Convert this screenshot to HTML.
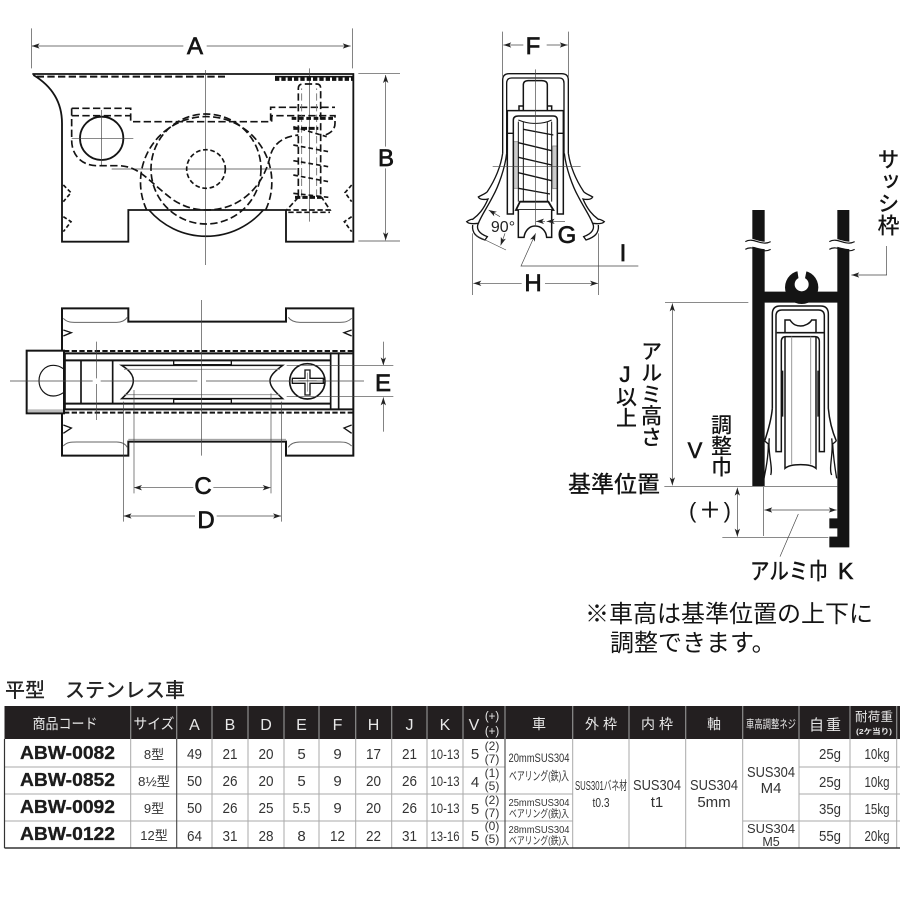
<!DOCTYPE html>
<html lang="ja">
<head>
<meta charset="utf-8">
<title>平型 ステンレス車</title>
<style>
html,body{margin:0;padding:0;background:#fff;width:900px;height:900px;overflow:hidden}
svg{display:block}
text{font-family:"Liberation Sans","Noto Sans CJK JP",sans-serif}
</style>
</head>
<body>
<svg xmlns="http://www.w3.org/2000/svg" width="900" height="900" viewBox="0 0 900 900">
<defs>
<marker id="a" viewBox="0 0 24 16" refX="24" refY="8" markerWidth="24" markerHeight="16" markerUnits="userSpaceOnUse" orient="auto-start-reverse">
<path d="M0 0L24 8L0 16L6 8z" fill="#222"/>
</marker>
</defs>

<!-- TOP VIEW -->
<g transform="translate(0,20) scale(.33333)" fill="none" stroke="#141414" stroke-width="5.5">
<path d="M97 162H1060V665H858V570H385V665H186V310C186 240 150 195 100 165"/>
<path d="M447 570A226 226 0 0 0 790 570" stroke-width="5"/>
<circle cx="305" cy="355" r="65"/>
<g stroke-width="2" stroke="#444">
<path d="M617 150V735M335 447H890M305 270V435M215 355H400M928 145V605"/>
<path d="M95 25V145M1057 25V145M1075 161H1200M1075 663H1200"/>
<path d="M95 78H550" marker-start="url(#a)"/>
<path d="M620 78H1052" marker-end="url(#a)"/>
<path d="M1157 380V165" marker-end="url(#a)"/>
<path d="M1157 445V661" marker-end="url(#a)"/>
</g>
<g stroke-width="5" stroke-dasharray="22 10">
<path d="M440 570A197 197 0 1 1 797 570"/>
<circle cx="618" cy="447" r="165"/>
<circle cx="618" cy="447" r="58" stroke-dasharray="14 8"/>
<path d="M215 287H390M215 265H392V305H812V262H1005"/>
<path d="M815 305V287H1005V310C1005 330 990 340 975 345"/>
<path d="M215 265V360C215 410 250 437 290 437H350C420 437 440 480 520 540C560 565 590 570 620 570C720 570 790 500 810 410C820 370 850 350 895 345"/>
<path d="M110 170H675" stroke-width="6"/>
<path d="M895 530V205Q895 192 910 192H950Q962 192 962 205V530"/>
<path d="M905 530V205M950 530V205" stroke-width="2.5" stroke="#666"/>
<path d="M895 532L860 570H990L965 532" stroke-dasharray="16 8"/>
<path d="M865 577H990" stroke-dasharray="16 8"/>
<path d="M190 495L213 518L190 545M190 590L213 605L190 635M1055 495L1035 518L1055 545M1055 590L1033 605L1055 635" stroke-dasharray="12 7"/>
<path d="M880 320L980 350M880 375L985 395M880 422L985 440M880 465L985 485M880 520L985 532" stroke-dasharray="14 9"/>
</g>
<path d="M825 176H1062" stroke-width="13" stroke-dasharray="13 6"/>
<path d="M825 170H1062" stroke-width="5"/>
<path d="M875 295H1005" stroke-width="9" stroke-dasharray="14 8"/>
<path d="M880 325H955" stroke-width="9" stroke-dasharray="18 5"/>
<path d="M885 532H965" stroke-width="9" stroke-dasharray="16 6"/>
</g>

<!-- PLAN VIEW -->
<g transform="translate(0,290) scale(.33333)" fill="none" stroke="#141414" stroke-width="6">
<path d="M186 180V55H385V95H858V55H1060V497H858V455H385V497H186V370"/>
<rect x="80" y="182" width="112" height="188" stroke-width="6"/>
<rect x="83" y="358" width="106" height="8" fill="#bbb" stroke="none"/>
<path d="M190 236C180 229 170 226 160 226C135 226 117 247 117 272C117 298 135 318 160 318C170 318 180 315 190 308" stroke-width="3.5"/>
<path d="M192 183H1058M192 368H1058" stroke-width="6" stroke-dasharray="16 7"/>
<path d="M195 190H1060M195 358H1060" stroke-width="6"/>
<path d="M195 211H990M195 341H990" stroke-width="6"/>
<path d="M195 190V358M243 211V341M338 211V341M992 190V358M1016 190V358" stroke-width="5"/>
<path d="M521 211H694V224H521zM521 341V328H694V341" stroke-width="4"/>
<path d="M365 226H848C822 245 810 258 810 272C810 290 825 305 848 326H365C388 305 400 290 400 272C400 255 388 240 365 226Z" stroke-width="4.5" fill="#fff"/>
<path d="M372 238H840M372 314H840" stroke-width="2.5" stroke="#888"/>
<circle cx="922" cy="274" r="53" stroke-width="5"/>
<path d="M915 240H930V265H970V280H930V315H915V280H877V265H915Z" stroke-width="4" fill="#fff"/>
<path d="M895 272H950M922 248V305" stroke-width="2" stroke="#777"/>
<g stroke-width="3" stroke="#666">
<path d="M190 85C200 97 215 97 230 97H350C365 97 375 92 382 82"/>
<path d="M865 82C872 92 885 97 900 97H1020C1035 97 1045 95 1055 85"/>
<path d="M190 468C200 456 215 456 230 456H350C365 456 375 460 382 472"/>
<path d="M865 472C872 460 885 456 900 456H1020C1035 456 1045 458 1055 468"/>
</g>
<path d="M190 120L214 128L190 138M1055 120L1032 128L1055 138M190 405L214 414L190 430M1055 405L1032 414L1055 430" stroke-width="4"/>
<path d="M385 448H858" stroke-width="2.5" stroke="#888"/>
<g stroke-width="2" stroke="#444">
<path d="M30 273H278M302 273H592M618 273H1092M605 30V497M290 155V265M290 282V390M860 226H1180M860 320H1180"/>
<path d="M402 300V610M813 310V610M370 335V695M845 335V695"/>
<path d="M1150 155V226" marker-end="url(#a)"/>
<path d="M1150 425V322" marker-end="url(#a)"/>
<path d="M580 593H402" marker-end="url(#a)"/>
<path d="M640 593H812" marker-end="url(#a)"/>
<path d="M585 678H371" marker-end="url(#a)"/>
<path d="M650 678H843" marker-end="url(#a)"/>
</g>
</g>

<!-- FRONT VIEW -->
<g transform="translate(450,20) scale(.33333)" fill="none" stroke="#141414" stroke-width="4">
<rect x="191" y="365" width="14" height="140" fill="#ccc" stroke="#888" stroke-width="2.5"/>
<rect x="308" y="378" width="14" height="128" fill="#ccc" stroke="#888" stroke-width="2.5"/>
<path d="M158 400V180Q158 161 178 161H335Q355 161 355 180V400"/>
<path d="M170 400V190Q170 174 185 174H328Q342 174 342 190V400"/>
<g id="fl">
<path d="M158 400C152 440 135 480 112 515C105 522 95 525 85 531C88 538 100 540 114 537C100 570 85 585 68 598C65 597 58 600 50 605C55 612 70 612 85 610C78 625 85 640 112 650L105 660C80 652 65 640 68 615"/>
<path d="M170 400C165 445 145 500 128 530C110 565 95 585 85 610" stroke-width="4"/>
</g>
<g transform="translate(513,0) scale(-1,1)">
<path d="M158 400C152 440 135 480 112 515C105 522 95 525 85 531C88 538 100 540 114 537C100 570 85 585 68 598C65 597 58 600 50 605C55 612 70 612 85 610C78 625 85 640 112 650L105 660C80 652 65 640 68 615"/>
<path d="M170 400C165 445 145 500 128 530C110 565 95 585 85 610" stroke-width="4"/>
</g>
<path d="M172 582V272H340V582H322V300Q322 288 310 288H205Q190 288 190 300V582Z" stroke-width="4.5"/>
<path d="M172 340H190M322 340H340"/>
<path d="M220 270V195Q220 182 235 182H275Q292 182 292 195V270M207 270V258H220M305 270V258H292" stroke-width="4.5"/>
<path d="M205 305V545M220 305V545M292 305V545M305 305V545M205 300Q230 310 250 310H260Q285 310 305 300" stroke-width="3"/>
<path d="M220 328L310 345M205 368L305 392M205 412L305 435M205 458L305 482M205 505L300 522" stroke-width="4"/>
<path d="M198 570L210 545H295L310 570Z" stroke-width="5.5" fill="#fff"/>
<path d="M205 570V652H222C225 630 240 618 255 618C272 618 288 630 290 652H305V570" stroke-width="4.5" fill="#fff"/>
<g stroke-width="2" stroke="#444">
<path d="M256 148V620M128 440H392"/>
<path d="M158 35V175M355 35V175M68 640V825M446 640V825"/>
<path d="M220 75H160" marker-end="url(#a)"/>
<path d="M290 75H353" marker-end="url(#a)"/>
<path d="M215 790H70" marker-end="url(#a)"/>
<path d="M285 790H444" marker-end="url(#a)"/>
<path d="M150 590L116 570" marker-end="url(#a)"/>
<path d="M165 640L152 676" marker-end="url(#a)"/>
<path d="M75 645L168 690"/>
<path d="M285 604H258" marker-end="url(#a)"/>
<path d="M318 604H290" marker-end="url(#a)"/>
<path d="M345 604H318"/>
<path d="M565 738H213L257 640" marker-end="url(#a)"/>
</g>
</g>

<!-- SECTION VIEW -->
<g transform="translate(560,140) scale(.33333)" fill="none" stroke="#141414" stroke-width="4">
<path d="M577 210H614V455H832V210H868V1222H808V1190H832V1165H808V1135H832V488H614V1038H577Z" fill="#141414" stroke="none"/>
<path d="M560 297C580 290 600 312 630 303L630 325C600 334 580 312 560 322ZM810 297C830 290 855 312 885 303L885 325C855 334 830 312 810 322Z" fill="#fff" stroke="none"/>
<path d="M556 305C580 290 605 320 632 305M556 328C580 313 605 343 632 328M808 305C832 290 857 320 884 305M808 328C832 313 857 343 884 328" stroke-width="3.5"/>
<circle cx="725" cy="442" r="50" fill="#141414" stroke="none"/>
<circle cx="725" cy="433" r="21" fill="#fff" stroke="none"/>
<path d="M711 385H741L733 425H717Z" fill="#fff" stroke="none"/>
<path d="M637 805V522Q637 498 660 498H782Q805 498 805 522V805C808 840 815 870 829 903" stroke-width="4.5"/>
<path d="M637 805C634 840 625 870 614 903" stroke-width="4.5"/>
<path d="M648 935V528Q648 510 666 510H775Q793 510 793 528V935H778V605Q778 590 765 590H677Q664 590 664 605V935Z" stroke-width="4.5"/>
<path d="M650 578H792" stroke-width="5"/>
<path d="M675 578V540H690C700 555 710 558 722 558C735 558 750 550 755 540H768V578" stroke-width="4.5"/>
<path d="M675 590V985C692 970 752 970 768 985V590" stroke-width="4.5"/>
<path d="M695 590V973M752 590V973" stroke-width="3" stroke="#999"/>
<path d="M668 692V830M774 692V830" stroke-width="4"/>
<path d="M614 903L625 912C625 950 618 985 612 1015M829 903L818 912C820 950 825 985 830 1015M628 895C622 935 640 985 632 1005M815 895C822 935 805 985 815 1005" stroke-width="4"/>
<g stroke-width="2" stroke="#444">
<path d="M315 487H565M313 1040H832M487 1192H805M611 1040V1188"/>
<path d="M337 490V1036" marker-start="url(#a)" marker-end="url(#a)"/>
<path d="M532 1043V1190" marker-start="url(#a)" marker-end="url(#a)"/>
<path d="M613 1110H830" marker-start="url(#a)" marker-end="url(#a)"/>
<path d="M715 1122L660 1250"/>
<path d="M980 318V405H874" marker-end="url(#a)"/>
</g>
</g>

<!-- DIMENSION LABELS -->
<g fill="#141414" stroke="#141414" stroke-width=".7" font-size="24" text-anchor="middle">
<text x="195" y="54">A</text>
<text x="386" y="166">B</text>
<text x="203" y="494">C</text>
<text x="206" y="528">D</text>
<text x="383" y="391">E</text>
<text x="533" y="54">F</text>
<text x="567" y="243">G</text>
<text x="533" y="291">H</text>
<text x="623" y="261">I</text>
</g>
<text x="503" y="232" font-size="16" text-anchor="middle" fill="#222">90°</text>

<!-- JP LABELS -->
<g fill="#141414" font-weight="500">
<text x="887" y="148" font-size="22" style="writing-mode:vertical-rl">サッシ枠</text>
<text x="650" y="340" font-size="21.5" style="writing-mode:vertical-rl">アルミ高さ</text>
<text x="625" y="382" font-size="22" text-anchor="middle" font-weight="400" stroke="#141414" stroke-width=".6">J</text>
<text x="625" y="386" font-size="21" style="writing-mode:vertical-rl">以上</text>
<text x="720" y="414" font-size="21" style="writing-mode:vertical-rl">調整巾</text>
<text x="695" y="458" font-size="22" text-anchor="middle" font-weight="400" stroke="#141414" stroke-width=".6">V</text>
<text x="568" y="492" font-size="23" textLength="92" lengthAdjust="spacing">基準位置</text>
<text x="689" y="518" font-size="22" textLength="42" lengthAdjust="spacing">(＋)</text>
<text x="750" y="579" font-size="23" textLength="78" lengthAdjust="spacingAndGlyphs">アルミ巾</text>
<text x="838" y="579" font-size="23" font-weight="400" stroke="#141414" stroke-width=".6">K</text>
<text x="585" y="622" font-size="24" font-weight="400">※車高は基準位置の上下に</text>
<text x="610" y="651" font-size="24" font-weight="400">調整できます。</text>
<text x="5" y="697" font-size="20" font-weight="500" fill="#222">平型</text>
<text x="65" y="697" font-size="20" font-weight="500" fill="#222">ステンレス車</text>
</g>

<!-- TABLE -->
<rect x="4.5" y="706" width="895.5" height="33" fill="#231f20"/>
<g stroke="#8e8e8e" stroke-width="1.2">
<path d="M130.7 706V739M176.7 706V739M212 706V739M248 706V739M284 706V739M319 706V739M355.7 706V739M391.7 706V739M427 706V739M463 706V739M505 706V739M572.7 706V739M629 706V739M685.7 706V739M742.7 706V739M799 706V739M850 706V739M896.7 706V739"/>
</g>
<g stroke="#aaa" stroke-width="1" fill="none">
<path d="M130.7 739V848M212 739V848M248 739V848M284 739V848M319 739V848M355.7 739V848M391.7 739V848M427 739V848M463 739V848M572.7 739V848M629 739V848M685.7 739V848M742.7 739V848M799 739V848M850 739V848M896.7 739V848"/>
<path d="M4.5 767H505M4.5 794H572.7M4.5 821H572.7M742.7 821H799M799 767H900M799 794H900M799 821H900"/>
</g>
<path d="M176.7 739V848M505 739V848" stroke="#444" stroke-width="1.1" fill="none"/>
<path d="M4.5 739V848" stroke="#333" stroke-width="1.2" fill="none"/>
<path d="M4.5 848H900" stroke="#333" stroke-width="1.4" fill="none"/>

<!-- header text -->
<g fill="#e8e8e8" font-size="16" text-anchor="middle">
<text x="65" y="729" font-size="14.5" textLength="65" lengthAdjust="spacingAndGlyphs">商品コード</text>
<text x="154" y="729" font-size="14.5" textLength="41" lengthAdjust="spacingAndGlyphs">サイズ</text>
<text x="194.5" y="730">A</text><text x="230" y="730">B</text><text x="266" y="730">D</text>
<text x="301.5" y="730">E</text><text x="337.5" y="730">F</text><text x="373.5" y="730">H</text>
<text x="409.5" y="730">J</text><text x="445" y="730">K</text>
<text x="474" y="730">V</text>
<text x="492" y="720" font-size="11.5">(+)</text><text x="492" y="735" font-size="11.5">(+)</text>
<text x="539" y="729" font-size="14">車</text>
<text x="601" y="729" font-size="14" textLength="32" lengthAdjust="spacing">外枠</text>
<text x="657" y="729" font-size="14" textLength="32" lengthAdjust="spacing">内枠</text>
<text x="714" y="729" font-size="14">軸</text>
<text x="771" y="728" font-size="11.5" textLength="50" lengthAdjust="spacingAndGlyphs">車高調整ネジ</text>
<text x="825" y="730" font-size="15" textLength="32" lengthAdjust="spacing">自重</text>
<text x="874" y="721" font-size="12.5" textLength="38" lengthAdjust="spacing">耐荷重</text>
<text x="874" y="734" font-size="7.5" textLength="36" lengthAdjust="spacingAndGlyphs" font-weight="700">(2ケ当り)</text>
</g>

<!-- codes -->
<g fill="#1c1c1c" font-size="18" font-weight="700" stroke="#1c1c1c" stroke-width=".3">
<text x="20" y="759" textLength="95" lengthAdjust="spacingAndGlyphs">ABW-0082</text>
<text x="20" y="786" textLength="95" lengthAdjust="spacingAndGlyphs">ABW-0852</text>
<text x="20" y="813" textLength="95" lengthAdjust="spacingAndGlyphs">ABW-0092</text>
<text x="20" y="840" textLength="95" lengthAdjust="spacingAndGlyphs">ABW-0122</text>
</g>

<!-- body cells -->
<g fill="#333" font-size="15" text-anchor="middle">
<text x="154" y="759" font-size="13">8型</text>
<text x="154" y="786" font-size="13" textLength="32" lengthAdjust="spacingAndGlyphs">8½型</text>
<text x="154" y="813" font-size="13">9型</text>
<text x="154" y="840" font-size="13">12型</text>

<text x="194.5" y="759" textLength="15" lengthAdjust="spacingAndGlyphs">49</text><text x="230" y="759" textLength="15" lengthAdjust="spacingAndGlyphs">21</text><text x="266" y="759" textLength="15" lengthAdjust="spacingAndGlyphs">20</text><text x="301.5" y="759">5</text><text x="337.5" y="759">9</text><text x="373.5" y="759" textLength="15" lengthAdjust="spacingAndGlyphs">17</text><text x="409.5" y="759" textLength="15" lengthAdjust="spacingAndGlyphs">21</text>
<text x="194.5" y="786" textLength="15" lengthAdjust="spacingAndGlyphs">50</text><text x="230" y="786" textLength="15" lengthAdjust="spacingAndGlyphs">26</text><text x="266" y="786" textLength="15" lengthAdjust="spacingAndGlyphs">20</text><text x="301.5" y="786">5</text><text x="337.5" y="786">9</text><text x="373.5" y="786" textLength="15" lengthAdjust="spacingAndGlyphs">20</text><text x="409.5" y="786" textLength="15" lengthAdjust="spacingAndGlyphs">26</text>
<text x="194.5" y="813" textLength="15" lengthAdjust="spacingAndGlyphs">50</text><text x="230" y="813" textLength="15" lengthAdjust="spacingAndGlyphs">26</text><text x="266" y="813" textLength="15" lengthAdjust="spacingAndGlyphs">25</text><text x="301.5" y="813" textLength="18" lengthAdjust="spacingAndGlyphs">5.5</text><text x="337.5" y="813">9</text><text x="373.5" y="813" textLength="15" lengthAdjust="spacingAndGlyphs">20</text><text x="409.5" y="813" textLength="15" lengthAdjust="spacingAndGlyphs">26</text>
<text x="194.5" y="841" textLength="15" lengthAdjust="spacingAndGlyphs">64</text><text x="230" y="841" textLength="15" lengthAdjust="spacingAndGlyphs">31</text><text x="266" y="841" textLength="15" lengthAdjust="spacingAndGlyphs">28</text><text x="301.5" y="841">8</text><text x="337.5" y="841" textLength="15" lengthAdjust="spacingAndGlyphs">12</text><text x="373.5" y="841" textLength="15" lengthAdjust="spacingAndGlyphs">22</text><text x="409.5" y="841" textLength="15" lengthAdjust="spacingAndGlyphs">31</text>

<g font-size="14">
<text x="445" y="759" textLength="29" lengthAdjust="spacingAndGlyphs">10-13</text>
<text x="445" y="786" textLength="29" lengthAdjust="spacingAndGlyphs">10-13</text>
<text x="445" y="813" textLength="29" lengthAdjust="spacingAndGlyphs">10-13</text>
<text x="445" y="841" textLength="29" lengthAdjust="spacingAndGlyphs">13-16</text>
</g>

<text x="475" y="759">5</text><text x="475" y="787">4</text><text x="475" y="814">5</text><text x="475" y="841">5</text>
<g font-size="12">
<text x="492" y="750">(2)</text><text x="492" y="763">(7)</text>
<text x="492" y="777">(1)</text><text x="492" y="790">(5)</text>
<text x="492" y="804">(2)</text><text x="492" y="817">(7)</text>
<text x="492" y="830">(0)</text><text x="492" y="843">(5)</text>
</g>

<text x="539" y="762" font-size="12" textLength="61" lengthAdjust="spacingAndGlyphs">20mmSUS304</text>
<text x="539" y="780" font-size="12" textLength="60" lengthAdjust="spacingAndGlyphs">ベアリング(鉄)入</text>
<text x="539" y="806" font-size="10.5" textLength="61" lengthAdjust="spacingAndGlyphs">25mmSUS304</text>
<text x="539" y="817" font-size="10.5" textLength="60" lengthAdjust="spacingAndGlyphs">ベアリング(鉄)入</text>
<text x="539" y="833" font-size="10.5" textLength="61" lengthAdjust="spacingAndGlyphs">28mmSUS304</text>
<text x="539" y="844" font-size="10.5" textLength="60" lengthAdjust="spacingAndGlyphs">ベアリング(鉄)入</text>

<text x="601" y="790" font-size="12.5" textLength="52" lengthAdjust="spacingAndGlyphs">SUS301バネ材</text>
<text x="601" y="807" font-size="12.5" textLength="17" lengthAdjust="spacingAndGlyphs">t0.3</text>
<text x="657" y="790" textLength="48" lengthAdjust="spacingAndGlyphs">SUS304</text>
<text x="657" y="807">t1</text>
<text x="714" y="790" textLength="48" lengthAdjust="spacingAndGlyphs">SUS304</text>
<text x="714" y="807">5mm</text>
<text x="771" y="777" textLength="48" lengthAdjust="spacingAndGlyphs">SUS304</text>
<text x="771" y="793">M4</text>
<text x="771" y="833" font-size="12.5" textLength="48" lengthAdjust="spacingAndGlyphs">SUS304</text>
<text x="771" y="846" font-size="12.5">M5</text>

<text x="830" y="759" textLength="22" lengthAdjust="spacingAndGlyphs">25g</text><text x="830" y="787" textLength="22" lengthAdjust="spacingAndGlyphs">25g</text><text x="830" y="814" textLength="22" lengthAdjust="spacingAndGlyphs">35g</text><text x="830" y="841" textLength="22" lengthAdjust="spacingAndGlyphs">55g</text>
<text x="877" y="759" textLength="25" lengthAdjust="spacingAndGlyphs">10kg</text><text x="877" y="787" textLength="25" lengthAdjust="spacingAndGlyphs">10kg</text><text x="877" y="814" textLength="25" lengthAdjust="spacingAndGlyphs">15kg</text><text x="877" y="841" textLength="25" lengthAdjust="spacingAndGlyphs">20kg</text>
</g>
</svg>
</body>
</html>
